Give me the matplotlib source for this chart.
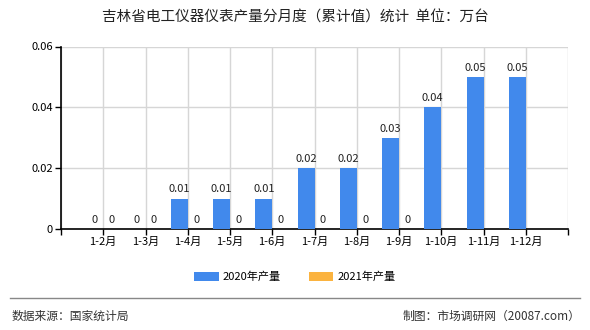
import matplotlib
matplotlib.use("Agg")
import matplotlib.pyplot as plt
from matplotlib.lines import Line2D
import numpy as np

plt.rcParams["font.family"] = ["Noto Sans CJK SC", "DejaVu Sans"]

months = ["1-2月", "1-3月", "1-4月", "1-5月", "1-6月", "1-7月",
          "1-8月", "1-9月", "1-10月", "1-11月", "1-12月"]
output_2020 = [0, 0, 0.01, 0.01, 0.01, 0.02, 0.02, 0.03, 0.04, 0.05, 0.05]
output_2021 = [0, 0, 0, 0, 0, 0, 0, 0, None, None, None]
y_ticks = [0, 0.02, 0.04, 0.06]
y_tick_labels = ["0", "0.02", "0.04", "0.06"]

color_2020 = "#4189ec"
color_2021 = "#fbb33f"
bar_w = 0.4

fig = plt.figure(figsize=(5.9, 3.3), dpi=100)
ax = fig.add_axes([61 / 590, 1 - 229 / 330, (568 - 61) / 590, (229 - 46.5) / 330])

x = np.arange(len(months))
vals21 = [v if v is not None else 0 for v in output_2021]
b1 = ax.bar(x - bar_w / 2, output_2020, bar_w, color=color_2020, zorder=3)
b2 = ax.bar(x + bar_w / 2, vals21, bar_w, color=color_2021, zorder=3)

# value labels
for xi, v in zip(x, output_2020):
    ax.annotate(f"{v:g}", (xi - bar_w / 2, v), xytext=(0, 3), textcoords="offset points",
                ha="center", va="bottom", fontsize=8, color="#222222")
for xi, v in zip(x, output_2021):
    if v is None:
        continue
    ax.annotate(f"{v:g}", (xi + bar_w / 2, v), xytext=(0, 3), textcoords="offset points",
                ha="center", va="bottom", fontsize=8, color="#222222")

ax.set_xlim(-1, len(months))
ax.set_ylim(0, 0.06)
ax.set_xticks(np.arange(-1, len(months) + 1))
ax.set_xticklabels([""] + months + [""], fontsize=8)
ax.set_yticks(y_ticks)
ax.set_yticklabels(y_tick_labels, fontsize=8)
ax.tick_params(axis="both", length=4, width=1, color="black", pad=2)
ax.grid(True, color="#d6d6d6", linewidth=1, zorder=0)
ax.set_axisbelow(True)
for s in ["top", "right"]:
    ax.spines[s].set_visible(False)
for s in ["left", "bottom"]:
    ax.spines[s].set_color("black")
    ax.spines[s].set_linewidth(1.2)

fig.text(0.5, 1 - 18 / 330, "吉林省电工仪器仪表产量分月度（累计值）统计  单位：万台",
         ha="center", va="center", fontsize=10.5, color="#222222")

fig.legend([b1, b2], ["2020年产量", "2021年产量"], loc="center",
           bbox_to_anchor=(0.5, 1 - 277 / 330), ncol=2, frameon=False,
           fontsize=8, handlelength=2.2, handleheight=0.8, columnspacing=2.5,
           handletextpad=0.4)

fig.add_artist(Line2D([0.017, 0.983], [1 - 298 / 330] * 2, color="#888888", linewidth=1))
fig.text(0.02, 1 - 316 / 330, "数据来源：国家统计局", ha="left", va="center",
         fontsize=8.5, color="#333333")
fig.text(0.983, 1 - 316 / 330, "制图：市场调研网（20087.com）", ha="right", va="center",
         fontsize=8.5, color="#333333")

fig.savefig("out.png", dpi=100)
